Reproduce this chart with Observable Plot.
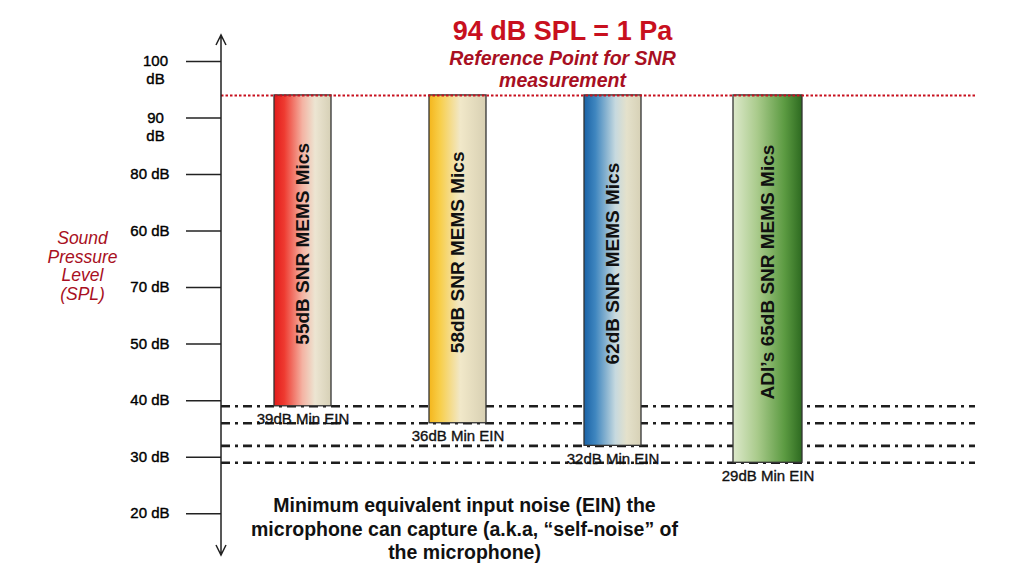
<!DOCTYPE html>
<html>
<head>
<meta charset="utf-8">
<script src="https://cdn.jsdelivr.net/npm/d3@7"></script>
<script src="https://cdn.jsdelivr.net/npm/@observablehq/plot@0.6"></script>
<style>
  html, body { margin: 0; padding: 0; background: #fff; }
  #chart { width: 1024px; height: 576px; }
</style>
</head>
<body>
<div id="chart"></div>
<script>
// ---- data ----
const categories = ["55dB SNR MEMS Mics", "58dB SNR MEMS Mics", "62dB SNR MEMS Mics", "ADI’s 65dB SNR MEMS Mics"];
const einValues = [39, 36, 32, 29];
const einLabels = ["39dB Min EIN", "36dB Min EIN", "32dB Min EIN", "29dB Min EIN"];
const referenceLevel = 94;
const tickValues = [100, 90, 80, 70, 60, 50, 40, 30, 20];
const tickLabels = ["100\ndB", "90\ndB", "80 dB", "60 dB", "70 dB", "50 dB", "40 dB", "30 dB", "20 dB"];
const titleText = "94 dB SPL = 1 Pa";
const subtitleText = "Reference Point for SNR\nmeasurement";
const yAxisTitle = "Sound\nPressure\nLevel\n(SPL)";
const noteText = "Minimum equivalent input noise (EIN) the\nmicrophone can capture (a.k.a, “self-noise” of\nthe microphone)";

// ---- styles ----
const gradients = [
  [[0, "#e21b1b"], [0.18, "#ee3a30"], [0.5, "#f4b3a3"], [0.72, "#ece5d2"], [1, "#d6d0b6"]],
  [[0, "#f4b61c"], [0.2, "#f8cf4c"], [0.55, "#f1e8c9"], [1, "#d8d0b3"]],
  [[0, "#1a62a6"], [0.2, "#3f86bf"], [0.55, "#c6d9df"], [0.75, "#e4e1cb"], [1, "#d7d1b6"]],
  [[0, "#dde9cb"], [0.35, "#aacb8c"], [0.75, "#5b9a41"], [1, "#2d6a20"]]
];
const red = "#c8101e";
const darkRed = "#a80f22";

const ticks = tickValues.map((v, i) => ({v, label: tickLabels[i]}));
const bars = categories.map((c, i) => ({c, ein: einValues[i], lab: einLabels[i], i}));

function axisArrow(index, scales, values, dimensions) {
  const {marginLeft, marginTop, marginBottom, height} = dimensions;
  const x = marginLeft, y0 = marginTop, y1 = height - marginBottom;
  const g = d3.create("svg:g");
  g.append("path")
    .attr("d", `M${x},${y0}V${y1}M${x - 5},${y0 + 10}L${x},${y0}L${x + 5},${y0 + 10}M${x - 5},${y1 - 10}L${x},${y1}L${x + 5},${y1 - 10}`)
    .attr("fill", "none").attr("stroke", "#222").attr("stroke-width", 1.5);
  return g.node();
}

const svg = Plot.plot({
  width: 1024,
  height: 576,
  marginLeft: 221,
  marginRight: 49,
  marginTop: 35,
  marginBottom: 21,
  style: {fontFamily: "'Liberation Sans', Arial, sans-serif", background: "#fff", overflow: "visible"},
  x: {type: "band", domain: categories, range: [221, 848.4], paddingInner: 0.63, paddingOuter: 0.326, axis: null},
  y: {domain: [12.6, 104.6]},
  marks: [
    // noise floor rules
    Plot.ruleY(einValues, {stroke: "#1e1e1e", strokeWidth: 2.6, strokeDasharray: "9,5,3,5"}),
    // bars
    ...bars.map(b => Plot.barY([b], {
      x: "c", y1: "ein", y2: () => referenceLevel,
      fill: `url(#grad${b.i})`, stroke: "#333", strokeWidth: 1.3,
      insetLeft: b.i === 3 ? -6 : 0, insetRight: b.i === 3 ? -6 : 0
    })),
    // reference line
    Plot.ruleY([referenceLevel], {stroke: red, strokeWidth: 2, strokeDasharray: "2.5,2"}),
    // in-bar labels
    Plot.text(bars, {x: "c", y: d => (d.ein + referenceLevel) / 2, text: "c", rotate: -90, dy: -7,
      fontSize: 19, fontWeight: "bold", fill: "#111"}),
    // EIN labels
    Plot.text(bars, {x: "c", y: "ein", text: "lab", dy: 13, fontSize: 15, fill: "#111",
      stroke: "#111", strokeWidth: 0.35, letterSpacing: "-0.3px"}),
    // y axis
    Plot.axisY({ticks: tickValues, tickSize: 35, tickFormat: () => "", stroke: "#222", strokeWidth: 1.5, label: null}),
    Plot.text(ticks.filter(d => !d.label.includes("\n")), {y: "v", text: "label", frameAnchor: "left",
      dx: -52, textAnchor: "end", fontSize: 15, fill: "#000", stroke: "#000", strokeWidth: 0.4}),
    Plot.text(ticks.filter(d => d.label.includes("\n")), {y: "v", text: "label", frameAnchor: "left",
      dx: -66, dy: -8, textAnchor: "middle", lineAnchor: "top", lineHeight: 1.2, fontSize: 15,
      fill: "#000", stroke: "#000", strokeWidth: 0.4}),
    axisArrow,
    // titles
    Plot.text([titleText], {text: d => d, frameAnchor: "top", dx: -36, dy: -4.5, lineAnchor: "middle",
      fontSize: 27, fontWeight: "bold", fill: red}),
    Plot.text([subtitleText], {text: d => d, frameAnchor: "top", dx: -36, dy: 14, lineAnchor: "top",
      lineHeight: 1.13, fontSize: 19.5, fontWeight: "bold", fontStyle: "italic", fill: darkRed}),
    Plot.text([yAxisTitle], {text: d => d, frameAnchor: "left", dx: -139, dy: -65, lineAnchor: "top",
      textAnchor: "middle", lineHeight: 1.07, fontSize: 17.5, fontStyle: "italic", fill: darkRed}),
    Plot.text([noteText], {text: d => d, frameAnchor: "bottom", dx: -134, dy: -60, lineAnchor: "top",
      lineHeight: 1.2, fontSize: 19.5, fontWeight: "bold", fill: "#111"})
  ]
});

const defs = d3.select(svg).insert("defs", ":first-child");
gradients.forEach((stops, i) => {
  const lg = defs.append("linearGradient").attr("id", `grad${i}`)
    .attr("x1", "0").attr("y1", "0").attr("x2", "1").attr("y2", "0");
  stops.forEach(([o, c]) => lg.append("stop").attr("offset", o).attr("stop-color", c));
});

document.getElementById("chart").appendChild(svg);
</script>
</body>
</html>
